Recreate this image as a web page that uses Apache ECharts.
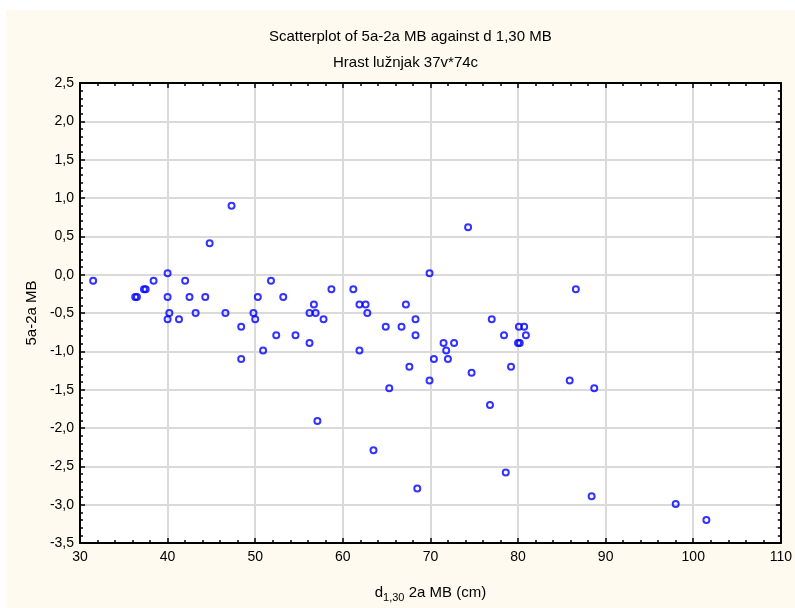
<!DOCTYPE html>
<html>
<head>
<meta charset="utf-8">
<script src="https://cdn.jsdelivr.net/npm/echarts@6/dist/echarts.min.js"></script>
<style>
html, body { margin: 0; padding: 0; background: #ffffff; }
#chart { width: 795px; height: 608px; }
</style>
</head>
<body>
<div id="chart"></div>
<script>
// d1,30 2a MB (cm)
var dValues = [
	31.5, 36.3, 36.5, 37.3, 37.5, 38.4, 40.0, 40.0, 40.2, 40.0,
	41.3, 42.0, 42.5, 43.2, 44.3, 44.8, 46.6, 47.3, 48.4, 48.4,
	49.8, 50.0, 50.3, 50.9, 51.8, 52.4, 53.2, 54.6, 56.2, 56.2,
	56.7, 56.9, 57.1, 57.8, 58.7, 61.2, 61.9, 61.9, 62.6, 62.8,
	63.5, 64.9, 65.3, 66.7, 67.2, 67.6, 68.3, 68.3, 68.5, 69.9,
	69.9, 70.4, 71.5, 71.8, 72.0, 72.7, 74.3, 74.7, 76.8, 77.0,
	78.4, 78.6, 79.2, 80.0, 80.2, 80.1, 80.7, 80.9, 85.9, 86.6,
	88.4, 88.7, 98.0, 101.5
];
// 5a-2a MB
var diffValues = [
	-0.08, -0.29, -0.29, -0.19, -0.19, -0.08, 0.02, -0.29, -0.50, -0.58,
	-0.58, -0.08, -0.29, -0.50, -0.29, 0.41, -0.50, 0.90, -0.68, -1.10,
	-0.50, -0.58, -0.29, -0.99, -0.08, -0.79, -0.29, -0.79, -0.89, -0.50,
	-0.39, -0.50, -1.91, -0.58, -0.19, -0.19, -0.39, -0.99, -0.39, -0.50,
	-2.29, -0.68, -1.48, -0.68, -0.39, -1.20, -0.58, -0.79, -2.79, 0.02,
	-1.38, -1.10, -0.89, -0.99, -1.10, -0.89, 0.62, -1.28, -1.70, -0.58,
	-0.79, -2.58, -1.20, -0.89, -0.89, -0.68, -0.68, -0.79, -1.38, -0.19,
	-2.89, -1.48, -2.99, -3.20
];
var xTicks = [30, 40, 50, 60, 70, 80, 90, 100, 110];
var yTicks = [2.5, 2.0, 1.5, 1.0, 0.5, 0.0, -0.5, -1.0, -1.5, -2.0, -2.5, -3.0, -3.5];

var font = 'Liberation Sans Narrow, Liberation Sans, Arial, sans-serif';

var points = dValues.map(function(d, i) { return [d, diffValues[i]]; });

function commaLabel(v)
{
	return v.toFixed(1).replace('.', ',');
}

function frameAxis(pos, isX, showLabels)
{
	var ticks = isX ? xTicks : yTicks;
	return {
		type: 'value',
		position: pos,
		min: isX ? ticks[0] : ticks[ticks.length - 1],
		max: isX ? ticks[ticks.length - 1] : ticks[0],
		interval: isX ? 10 : 0.5,
		axisLine: { show: true, onZero: false, lineStyle: { color: '#000', width: 2 } },
		axisTick: { show: true, inside: true, length: 5, lineStyle: { color: '#000', width: 1.5 } },
		minorTick: { show: true, splitNumber: 5, length: 3, lineStyle: { color: '#000', width: 1.5 } },
		axisLabel: {
			show: showLabels,
			color: '#000',
			fontFamily: font,
			fontSize: 14,
			margin: isX ? 7 : 6,
			formatter: isX ? function(v) { return String(v); } : commaLabel
		},
		splitLine: { show: showLabels, lineStyle: { color: '#dadada', width: 2 } }
	};
}

var xMain = frameAxis('bottom', true, true);
xMain.name = '{a|d}{s|1,30}{a| 2a MB (cm)}';
xMain.nameLocation = 'middle';
xMain.nameGap = 39;
xMain.nameTextStyle = {
	rich: {
		a: { fontFamily: font, fontSize: 15, color: '#000' },
		s: { fontFamily: font, fontSize: 11, color: '#000', padding: [10, 0, 0, 0] }
	}
};
var xTop = frameAxis('top', true, false);

var yMain = frameAxis('left', false, true);
yMain.name = '5a-2a MB';
yMain.nameLocation = 'middle';
yMain.nameGap = 39;
yMain.nameTextStyle = { fontFamily: font, fontSize: 15, color: '#000' };
var yRight = frameAxis('right', false, false);

var chart = echarts.init(document.getElementById('chart'));
chart.setOption({
	backgroundColor: '#ffffff',
	animation: false,
	graphic: [{
		type: 'rect',
		left: 6, top: 10,
		shape: { width: 789, height: 598 },
		style: { fill: '#fffaef' },
		z: -10
	}],
	title: [
		{ text: 'Scatterplot of 5a-2a MB against d 1,30 MB', left: 264, top: 24,
			textStyle: { fontFamily: font, fontSize: 15, fontWeight: 'normal', color: '#000' } },
		{ text: 'Hrast lužnjak 37v*74c', left: 328, top: 50,
			textStyle: { fontFamily: font, fontSize: 15, fontWeight: 'normal', color: '#000' } }
	],
	grid: { left: 80, right: 14, top: 83, bottom: 62, show: true, backgroundColor: '#ffffff', borderWidth: 0 },
	xAxis: [xMain, xTop],
	yAxis: [yMain, yRight],
	series: [{
		type: 'scatter',
		data: points,
		symbol: 'circle',
		symbolSize: 6,
		itemStyle: { color: 'rgba(255,255,255,0)', borderColor: '#0000ff', borderWidth: 2 }
	}]
});
</script>
</body>
</html>
